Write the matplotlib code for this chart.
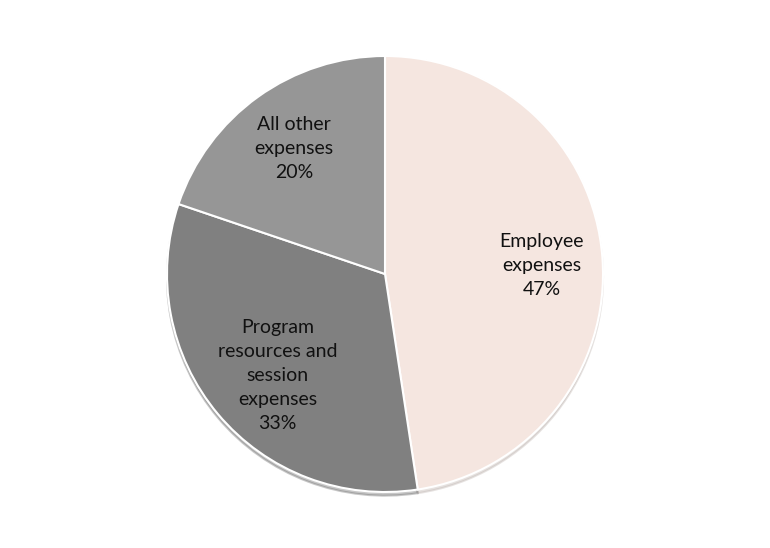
import numpy as np
import matplotlib
matplotlib.use("Agg")
import matplotlib.pyplot as plt

labels = ["Employee\nexpenses\n47%", "Program\nresources and\nsession\nexpenses\n33%", "All other\nexpenses\n20%"]
shares = [47.6, 32.6, 19.8]
colors = ["#F5E6E0", "#808080", "#969696"]
# label placement: distance from centre (radius units) and angle nudge (deg)
label_dist = [0.72, 0.68, 0.71]
label_turn = [-1.3, 3.5, 0.4]

plt.rcParams["font.family"] = ["Lato", "DejaVu Sans"]

fig = plt.figure(figsize=(7.7, 5.48), dpi=100)
ax = fig.add_axes([167 / 770, 56 / 548, 436 / 770, 436 / 548])

wedges, _ = ax.pie(shares, colors=colors, startangle=90, counterclock=False, radius=1,
                   shadow={"ox": 0, "oy": -0.012, "shade": 0.25, "alpha": 0.35},
                   wedgeprops={"edgecolor": "white", "linewidth": 1.5})

for w, lab, d, turn in zip(wedges, labels, label_dist, label_turn):
    ang = np.deg2rad((w.theta1 + w.theta2) / 2 + turn)
    ax.text(d * np.cos(ang), d * np.sin(ang), lab, ha="center", va="center",
            multialignment="center", linespacing=1.5, fontsize=14, color="#111111")

ax.set_xlim(-1, 1)
ax.set_ylim(-1, 1)
ax.set_aspect("equal")
ax.axis("off")

fig.savefig("out.png", dpi=100)
